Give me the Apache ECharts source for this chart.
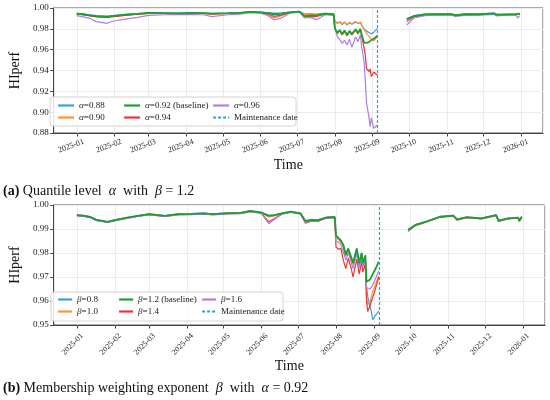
<!DOCTYPE html>
<html lang="en">
<head>
    <meta charset="UTF-8">
    <title>HIperf sensitivity</title>
    <script src="https://cdn.jsdelivr.net/npm/echarts@6/dist/echarts.min.js"></script>
    <style>
        html, body { margin: 0; padding: 0; background: #fff; }
        #main { width: 550px; height: 400px; }
    </style>
</head>
<body>
    <div id="main"></div>
    <script>
        // sample dates shared by both panels ('-' row = data gap)
        var dates = [
            '2025-01-01', '2025-01-06', '2025-01-12', '2025-01-17', '2025-01-26', '2025-01-31',
            '2025-02-10', '2025-02-20', '2025-03-01', '2025-03-14', '2025-03-25', '2025-04-05',
            '2025-04-15', '2025-04-22', '2025-05-05', '2025-05-15', '2025-05-23', '2025-06-01',
            '2025-06-07', '2025-06-12', '2025-06-18', '2025-06-25', '2025-07-03', '2025-07-07',
            '2025-07-12', '2025-07-17', '2025-07-24', '2025-07-31',
            '2025-08-01', '2025-08-03', '2025-08-05', '2025-08-07', '2025-08-09', '2025-08-11',
            '2025-08-13', '2025-08-15', '2025-08-18', '2025-08-20', '2025-08-22', '2025-08-23',
            '2025-08-25', '2025-08-26', '2025-08-27', '2025-08-29', '2025-08-30', '2025-08-31',
            '2025-09-02', '2025-09-05',
            '2025-09-16',
            '2025-09-29', '2025-10-05', '2025-10-14', '2025-10-25', '2025-11-05', '2025-11-08',
            '2025-11-16', '2025-11-28', '2025-12-10', '2025-12-12', '2025-12-20', '2025-12-28',
            '2025-12-29', '2025-12-31'
        ];

        // (a) quantile level alpha, beta = 1.2
        var alpha088 = [
            0.9948, 0.9943, 0.9934, 0.9926, 0.9921, 0.9928, 0.9938, 0.9946, 0.9954, 0.9952, 0.9950, 0.9954,
            0.9952, 0.9948, 0.9952, 0.9956, 0.9964, 0.9960, 0.9955, 0.9950, 0.9950, 0.9960, 0.9967, 0.9945,
            0.9945, 0.9942, 0.9948, 0.9943,
            0.9872, 0.9852, 0.9865, 0.9842, 0.9862, 0.9836, 0.9858, 0.9845, 0.9866, 0.9850, 0.9862, 0.9838,
            0.9800, 0.9790, 0.9778, 0.9765, 0.9757, 0.9752, 0.9768, 0.9805,
            '-',
            0.9897, 0.9926, 0.9942, 0.9945, 0.9943, 0.9934, 0.9943, 0.9943, 0.9950, 0.9940, 0.9941, 0.9944,
            0.9937, 0.9947
        ];
        var alpha090 = [
            0.9942, 0.9937, 0.9926, 0.9916, 0.9910, 0.9920, 0.9932, 0.9941, 0.9950, 0.9948, 0.9946, 0.9950,
            0.9948, 0.9944, 0.9948, 0.9952, 0.9960, 0.9956, 0.9930, 0.9905, 0.9925, 0.9956, 0.9964, 0.9935,
            0.9936, 0.9936, 0.9944, 0.9940,
            0.9878, 0.9857, 0.9870, 0.9848, 0.9866, 0.9840, 0.9862, 0.9848, 0.9872, 0.9852, 0.9866, 0.9832,
            0.9792, 0.9775, 0.9757, 0.9730, 0.9712, 0.9698, 0.9685, 0.9722,
            '-',
            0.9890, 0.9920, 0.9937, 0.9940, 0.9938, 0.9928, 0.9938, 0.9938, 0.9946, 0.9932, 0.9936, 0.9939,
            0.9930, 0.9943
        ];
        var alpha092 = [
            0.9945, 0.9940, 0.9930, 0.9922, 0.9917, 0.9925, 0.9935, 0.9943, 0.9952, 0.9950, 0.9948, 0.9952,
            0.9950, 0.9946, 0.9950, 0.9954, 0.9962, 0.9958, 0.9950, 0.9940, 0.9945, 0.9958, 0.9966, 0.9922,
            0.9928, 0.9930, 0.9945, 0.9940,
            0.9805, 0.9763, 0.9789, 0.9750, 0.9785, 0.9741, 0.9780, 0.9750, 0.9795, 0.9762, 0.9800, 0.9745,
            0.9668, 0.9662, 0.9665, 0.9672, 0.9682, 0.9692, 0.9705, 0.9735,
            '-',
            0.9894, 0.9923, 0.9939, 0.9942, 0.9940, 0.9930, 0.9940, 0.9940, 0.9948, 0.9935, 0.9938, 0.9941,
            0.9933, 0.9945
        ];
        var alpha094 = [
            0.9943, 0.9936, 0.9925, 0.9915, 0.9910, 0.9918, 0.9930, 0.9940, 0.9949, 0.9947, 0.9945, 0.9949,
            0.9947, 0.9942, 0.9947, 0.9951, 0.9960, 0.9955, 0.9942, 0.9920, 0.9932, 0.9955, 0.9964, 0.9913,
            0.9920, 0.9918, 0.9940, 0.9937,
            0.9800, 0.9755, 0.9782, 0.9742, 0.9778, 0.9733, 0.9772, 0.9742, 0.9788, 0.9752, 0.9793, 0.9735,
            0.9620, 0.9545, 0.9420, 0.9390, 0.9415, 0.9342, 0.9385, 0.9355,
            '-',
            0.9872, 0.9914, 0.9933, 0.9937, 0.9935, 0.9924, 0.9934, 0.9935, 0.9943, 0.9926, 0.9932, 0.9936,
            0.9925, 0.9940
        ];
        var alpha096 = [
            0.9926, 0.9915, 0.9900, 0.9869, 0.9853, 0.9875, 0.9894, 0.9910, 0.9930, 0.9935, 0.9938, 0.9937,
            0.9935, 0.9918, 0.9935, 0.9942, 0.9955, 0.9950, 0.9928, 0.9885, 0.9903, 0.9950, 0.9960, 0.9905,
            0.9910, 0.9888, 0.9935, 0.9930,
            0.9820, 0.9725, 0.9700, 0.9660, 0.9690, 0.9645, 0.9700, 0.9622, 0.9725, 0.9677, 0.9740, 0.9630,
            0.9485, 0.9310, 0.9090, 0.8955, 0.8860, 0.8945, 0.8845, 0.8877,
            '-',
            0.9837, 0.9904, 0.9926, 0.9933, 0.9932, 0.9920, 0.9930, 0.9932, 0.9938, 0.9927, 0.9929, 0.9931,
            0.9904, 0.9925
        ];

        // (b) membership weighting exponent beta, alpha = 0.92
        var beta08 = [
            0.9959, 0.9957, 0.9951, 0.9939, 0.9931, 0.9937, 0.9947, 0.9956, 0.9963, 0.9956, 0.9963, 0.9964,
            0.9966, 0.9963, 0.9967, 0.9968, 0.9976, 0.9969, 0.9957, 0.9959, 0.9966, 0.9973, 0.9966, 0.9935,
            0.9940, 0.9938, 0.9949, 0.9951,
            0.9874, 0.9864, 0.9853, 0.9835, 0.9794, 0.9820, 0.9790, 0.9760, 0.9820, 0.9759, 0.9802, 0.9760,
            0.9792, 0.9655, 0.9618, 0.9575, 0.9555, 0.9522, 0.9538, 0.9558,
            '-',
            0.9898, 0.9918, 0.9932, 0.9952, 0.9957, 0.9941, 0.9950, 0.9945, 0.9959, 0.9936, 0.9945, 0.9948,
            0.9936, 0.9952
        ];
        var beta10 = [
            0.9958, 0.9956, 0.9950, 0.9938, 0.9930, 0.9936, 0.9946, 0.9955, 0.9962, 0.9955, 0.9962, 0.9963,
            0.9965, 0.9962, 0.9966, 0.9967, 0.9975, 0.9968, 0.9950, 0.9955, 0.9965, 0.9972, 0.9965, 0.9930,
            0.9937, 0.9935, 0.9947, 0.9949,
            0.9866, 0.9856, 0.9846, 0.9826, 0.9786, 0.9812, 0.9782, 0.9751, 0.9812, 0.9750, 0.9794, 0.9751,
            0.9784, 0.9625, 0.9585, 0.9598, 0.9620, 0.9640, 0.9665, 0.9705,
            '-',
            0.9894, 0.9916, 0.9930, 0.9950, 0.9955, 0.9939, 0.9948, 0.9943, 0.9957, 0.9934, 0.9943, 0.9946,
            0.9934, 0.9950
        ];
        var beta12 = [
            0.9958, 0.9956, 0.9950, 0.9938, 0.9930, 0.9936, 0.9946, 0.9955, 0.9962, 0.9955, 0.9962, 0.9963,
            0.9965, 0.9962, 0.9966, 0.9967, 0.9975, 0.9968, 0.9955, 0.9958, 0.9965, 0.9972, 0.9965, 0.9932,
            0.9938, 0.9936, 0.9948, 0.9950,
            0.9872, 0.9862, 0.9852, 0.9833, 0.9792, 0.9818, 0.9788, 0.9758, 0.9818, 0.9757, 0.9800, 0.9758,
            0.9790, 0.9680, 0.9675, 0.9690, 0.9702, 0.9712, 0.9730, 0.9764,
            '-',
            0.9896, 0.9917, 0.9931, 0.9951, 0.9956, 0.9940, 0.9949, 0.9944, 0.9958, 0.9935, 0.9944, 0.9947,
            0.9935, 0.9951
        ];
        var beta14 = [
            0.9956, 0.9954, 0.9948, 0.9936, 0.9928, 0.9934, 0.9944, 0.9953, 0.9960, 0.9953, 0.9960, 0.9961,
            0.9963, 0.9960, 0.9964, 0.9965, 0.9973, 0.9966, 0.9930, 0.9945, 0.9963, 0.9970, 0.9963, 0.9924,
            0.9933, 0.9932, 0.9945, 0.9947,
            0.9825, 0.9815, 0.9820, 0.9770, 0.9735, 0.9778, 0.9745, 0.9700, 0.9775, 0.9712, 0.9765, 0.9720,
            0.9755, 0.9597, 0.9556, 0.9583, 0.9600, 0.9615, 0.9646, 0.9700,
            '-',
            0.9890, 0.9914, 0.9929, 0.9949, 0.9954, 0.9937, 0.9947, 0.9942, 0.9956, 0.9932, 0.9942, 0.9945,
            0.9931, 0.9949
        ];
        var beta16 = [
            0.9955, 0.9953, 0.9947, 0.9935, 0.9927, 0.9933, 0.9943, 0.9952, 0.9959, 0.9952, 0.9959, 0.9960,
            0.9962, 0.9959, 0.9963, 0.9964, 0.9972, 0.9965, 0.9922, 0.9942, 0.9962, 0.9969, 0.9962, 0.9926,
            0.9934, 0.9933, 0.9945, 0.9947,
            0.9850, 0.9845, 0.9835, 0.9805, 0.9770, 0.9800, 0.9768, 0.9735, 0.9800, 0.9738, 0.9782, 0.9740,
            0.9772, 0.9655, 0.9652, 0.9650, 0.9656, 0.9666, 0.9690, 0.9725,
            '-',
            0.9892, 0.9915, 0.9930, 0.9950, 0.9955, 0.9938, 0.9948, 0.9943, 0.9957, 0.9933, 0.9943, 0.9946,
            0.9933, 0.9950
        ];

        var maintenanceDate = '2025-09-05';
        var axisStart = '2024-12-13';
        var axisEnd = '2026-01-19';

        var serif = "'Liberation Serif', 'DejaVu Serif', serif";
        var colors = ['#3a9fe0', '#ff9430', '#1f9e33', '#f03434', '#b27ee0'];
        var maintColor = '#2f9ee0';

        function pairs(values) {
            return dates.map(function (d, i) { return [d, values[i]]; });
        }

        function pad(n) { return n < 10 ? '0' + n : '' + n; }

        function fmtMonth(v) {
            var d = new Date(v);
            return d.getFullYear() + '-' + pad(d.getMonth() + 1);
        }

        function lineSeries(name, values, color, idx, baseline) {
            return {
                name: name,
                type: 'line',
                xAxisIndex: idx,
                yAxisIndex: idx,
                data: pairs(values),
                symbol: 'none',
                connectNulls: false,
                z: baseline ? 4 : 3,
                lineStyle: { color: color, width: baseline ? 1.8 : 1.2 },
                itemStyle: { color: color }
            };
        }

        function maintSeries(idx) {
            return {
                name: 'Maintenance date',
                type: 'line',
                xAxisIndex: idx,
                yAxisIndex: idx,
                data: [],
                symbol: 'none',
                lineStyle: { color: maintColor, type: [3, 2], width: 1.2 },
                itemStyle: { color: maintColor },
                markLine: {
                    silent: true,
                    symbol: 'none',
                    label: { show: false },
                    lineStyle: { color: maintColor, type: [3, 2], width: 1.2 },
                    data: [{ xAxis: maintenanceDate }]
                }
            };
        }

        function timeAxis(idx, rotate, margin, nameGap, shift) {
            return {
                type: 'time',
                gridIndex: idx,
                min: axisStart,
                max: axisEnd,
                minInterval: 28 * 86400000,
                maxInterval: 31 * 86400000,
                name: 'Time',
                nameLocation: 'middle',
                nameGap: nameGap,
                nameTextStyle: { fontFamily: serif, fontSize: 14, color: '#111', padding: [0, 20, 0, 0] },
                axisLine: { lineStyle: { color: '#444' } },
                axisTick: { length: 3.5, lineStyle: { color: '#444' } },
                axisLabel: {
                    rotate: rotate,
                    align: 'center',
                    verticalAlign: 'middle',
                    margin: margin,
                    padding: [0, shift, 0, 0],
                    hideOverlap: false,
                    showMinLabel: false,
                    showMaxLabel: false,
                    fontFamily: serif,
                    fontSize: 8,
                    color: '#222',
                    formatter: fmtMonth
                },
                splitLine: { show: true, lineStyle: { color: '#ececec' } }
            };
        }

        function valueAxis(idx, min, max, interval) {
            return {
                type: 'value',
                gridIndex: idx,
                min: min,
                max: max,
                interval: interval,
                name: 'HIperf',
                nameLocation: 'middle',
                nameGap: 27,
                nameTextStyle: { fontFamily: serif, fontSize: 14, color: '#111' },
                axisLine: { show: true, lineStyle: { color: '#444' } },
                axisTick: { show: true, length: 3.5, lineStyle: { color: '#444' } },
                axisLabel: {
                    fontFamily: serif,
                    fontSize: 9,
                    color: '#222',
                    margin: 5,
                    formatter: function (v) { return v.toFixed(2); }
                },
                splitLine: { lineStyle: { color: '#ececec' } }
            };
        }

        function legendCol(names, left, top, width) {
            return {
                data: names,
                orient: 'vertical',
                left: left,
                top: top,
                padding: 0,
                itemGap: 3,
                itemWidth: width,
                itemHeight: 10,
                lineStyle: { width: 2.2 },
                itemStyle: { opacity: 0 },
                textStyle: {
                    fontFamily: serif, fontSize: 9, color: '#222',
                    rich: { i: { fontFamily: serif, fontSize: 9, fontStyle: 'italic', color: '#222' } }
                },
                formatter: function (name) {
                    var c = name.charAt(0);
                    return (c === 'α' || c === 'β') ? '{i|' + c + '}' + name.slice(1) : name;
                }
            };
        }

        function caption(text, top) {
            return {
                left: 3,
                top: top,
                padding: 0,
                text: text,
                textStyle: {
                    fontFamily: serif, fontSize: 14, fontWeight: 'normal', color: '#111',
                    rich: {
                        b: { fontFamily: serif, fontSize: 14, fontWeight: 'bold', color: '#111' },
                        i: { fontFamily: serif, fontSize: 14, fontStyle: 'italic', color: '#111' }
                    }
                }
            };
        }

        var myChart = echarts.init(document.getElementById('main'));

        var aNames = ['α=0.88', 'α=0.90', 'α=0.92 (baseline)', 'α=0.94', 'α=0.96'];
        var bNames = ['β=0.8', 'β=1.0', 'β=1.2 (baseline)', 'β=1.4', 'β=1.6'];
        var aData = [alpha088, alpha090, alpha092, alpha094, alpha096];
        var bData = [beta08, beta10, beta12, beta14, beta16];

        var series = [];
        aNames.forEach(function (n, i) { series.push(lineSeries(n, aData[i], colors[i], 0, i === 2)); });
        series.push(maintSeries(0));
        bNames.forEach(function (n, i) { series.push(lineSeries(n, bData[i], colors[i], 1, i === 2)); });
        series.push(maintSeries(1));

        var option = {
            animation: false,
            backgroundColor: '#fff',
            textStyle: { fontFamily: serif },
            title: [
                caption('{b|(a)} Quantile level  {i|α}  with  {i|β} = 1.2', 184),
                caption('{b|(b)} Membership weighting exponent  {i|β}  with  {i|α} = 0.92', 381)
            ],
            grid: [
                { left: 48, top: 8, right: 7, height: 125, show: true, borderColor: '#555', borderWidth: 1 },
                { left: 49, top: 205, right: 5, height: 120, show: true, borderColor: '#555', borderWidth: 1 }
            ],
            xAxis: [timeAxis(0, 20, 11, 25, 12), timeAxis(1, 45, 15, 31, 12)],
            yAxis: [valueAxis(0, 0.88, 1.0, 0.02), valueAxis(1, 0.95, 1.0, 0.01)],
            legend: [
                legendCol([aNames[0], aNames[1]], 57, 101, 16),
                legendCol([aNames[2], aNames[3]], 123, 101, 16),
                legendCol([aNames[4], 'Maintenance date'], 212, 101, 16),
                legendCol([bNames[0], bNames[1]], 57, 295, 14),
                legendCol([bNames[2], bNames[3]], 118, 295, 14),
                legendCol([bNames[4], 'Maintenance date'], 201, 295, 14)
            ],
            graphic: [
                {
                    type: 'rect', z: 3,
                    shape: { x: 50, y: 97, width: 246, height: 29, r: 3 },
                    style: { fill: 'rgba(255,255,255,0.85)', stroke: '#d4d4d4', lineWidth: 1 }
                },
                {
                    type: 'rect', z: 3,
                    shape: { x: 51, y: 292, width: 232, height: 29, r: 3 },
                    style: { fill: 'rgba(255,255,255,0.85)', stroke: '#d4d4d4', lineWidth: 1 }
                }
            ],
            series: series
        };

        myChart.setOption(option);
    </script>
</body>
</html>
